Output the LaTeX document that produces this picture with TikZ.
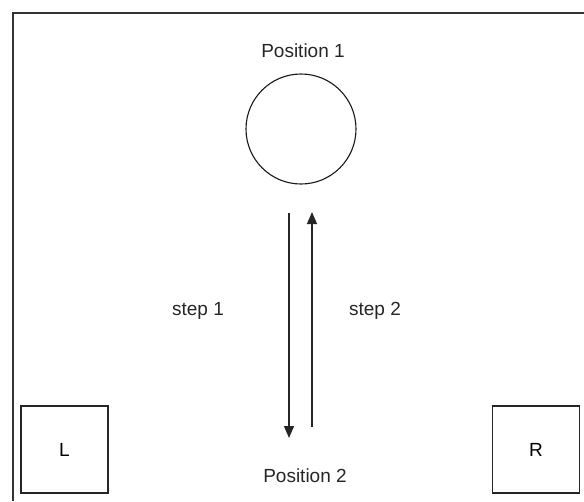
\documentclass[tikz,border=0pt]{standalone}
\usepackage{fontspec}
\setmainfont{Liberation Sans}
\usetikzlibrary{arrows.meta}
\tikzset{
  lbl/.style={font=\fontsize{19}{22}\selectfont, text=black!85, inner sep=0pt},
  sqbox/.style={draw=black!85, line width=1.1pt, minimum width=87pt, minimum height=87pt, inner sep=0pt, font=\fontsize{19}{22}\selectfont},
  arr/.style={draw=black!85, line width=1.3pt, -{Triangle[length=12pt,width=10pt]}}
}
\begin{document}
\begin{tikzpicture}[x=1pt,y=-1pt]
\useasboundingbox (0,0) rectangle (584,501);
\draw[black!80, line width=2pt] (13,501) -- (13,13) -- (584,13);
\node[lbl] (p1) at (303,51) {Position 1};
\node[draw=black!90, line width=1.1pt, circle, minimum size=110pt, inner sep=0pt] (c) at (301,129) {};
\coordinate (a1s) at (289,213);
\coordinate (a1e) at (289,438);
\coordinate (a2s) at (312,427);
\coordinate (a2e) at (312,212);
\draw[arr] (a1s) -- (a1e);
\draw[arr] (a2s) -- (a2e);
\node[lbl] (s1) at (198,311) {step 1};
\node[lbl] (s2) at (375,311) {step 2};
\node[sqbox] (L) at (64.5,449.5) {L};
\node[sqbox] (R) at (536,449.5) {R};
\node[lbl] (p2) at (305,476) {Position 2};
\end{tikzpicture}
\end{document}
